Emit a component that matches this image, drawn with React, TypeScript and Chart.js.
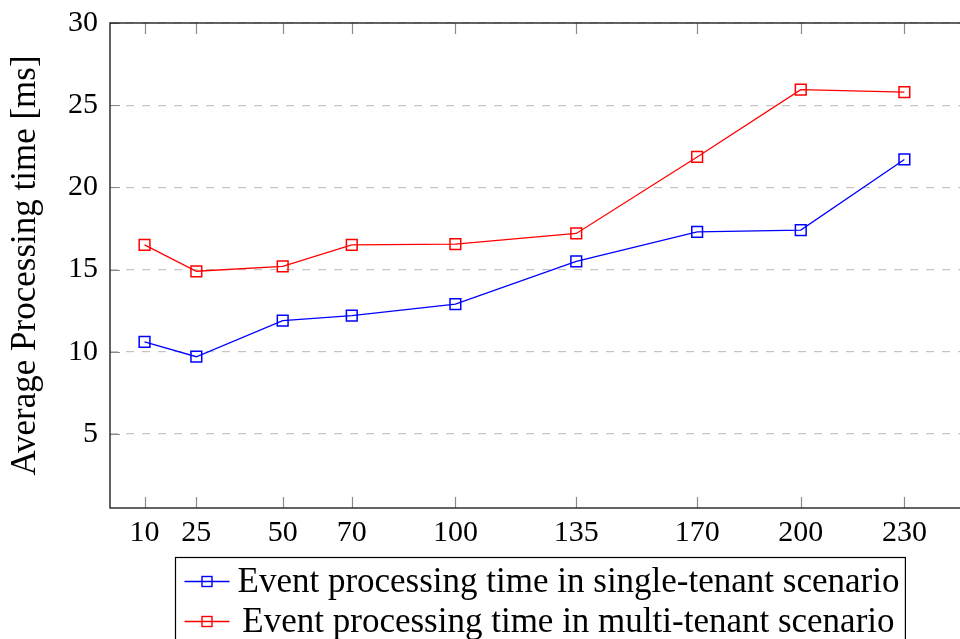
import React, { useEffect, useRef } from "react";
import { Chart, registerables } from "chart.js";

Chart.register(...registerables);

// ---- data ----
const processCounts = [10, 25, 50, 70, 100, 135, 170, 200, 230];
const singleTenant = [10.6, 9.7, 11.9, 12.2, 12.9, 15.5, 17.3, 17.4, 21.7];
const multiTenant = [16.5, 14.9, 15.2, 16.5, 16.55, 17.2, 21.85, 25.95, 25.8];
const yTickValues = [5, 10, 15, 20, 25, 30];
const seriesLabels = [
  "Event processing time in single-tenant scenario",
  "Event processing time in multi-tenant scenario",
];
const seriesColors = ["#0000ff", "#ff0000"];
const yAxisTitle = "Average Processing time [ms]";

const FONT = '"Liberation Serif", "Times New Roman", serif';

const framePlugin = {
  id: "pgfFrame",
  beforeDatasetsDraw(chart: any) {
    const { ctx, chartArea } = chart;
    const { left, right, top, bottom } = chartArea;
    const xs = chart.scales.x;
    const ys = chart.scales.y;
    ctx.save();
    ctx.strokeStyle = "#8a8a8a";
    ctx.lineWidth = 1.2;
    ctx.beginPath();
    for (const v of processCounts) {
      const px = Math.round(xs.getPixelForValue(v)) + 0.5;
      ctx.moveTo(px, bottom);
      ctx.lineTo(px, bottom - 11);
      ctx.moveTo(px, top);
      ctx.lineTo(px, top + 11);
    }
    for (const v of yTickValues) {
      const py = Math.round(ys.getPixelForValue(v)) + 0.5;
      ctx.moveTo(left, py);
      ctx.lineTo(left + 10, py);
      ctx.moveTo(right, py);
      ctx.lineTo(right - 10, py);
    }
    ctx.stroke();
    ctx.restore();
  },
  afterDraw(chart: any) {
    const { ctx, chartArea } = chart;
    const { left, right, top, bottom } = chartArea;
    ctx.save();
    ctx.strokeStyle = "#222";
    ctx.lineWidth = 1.4;
    ctx.strokeRect(left, top, right - left, bottom - top);

    // legend
    ctx.font = `35px ${FONT}`;
    const labels = chart.data.datasets.map((d: any) => d.label as string);
    const widths = labels.map((l: string) => ctx.measureText(l).width);
    const maxW = Math.max(...widths);
    const sampleW = 45;
    const boxW = 9 + sampleW + 8 + maxW + 6;
    const cx = (left + right) / 2;
    const boxLeft = Math.round(cx - boxW / 2) + 0.5;
    const boxTop = 557.5;
    const rowH = 40;
    ctx.strokeStyle = "#000";
    ctx.lineWidth = 1.2;
    ctx.strokeRect(boxLeft, boxTop, boxW, rowH * 2 + 14);
    chart.data.datasets.forEach((d: any, i: number) => {
      const cy = boxTop + 24 + i * rowH;
      const sx0 = boxLeft + 9;
      const sx1 = sx0 + sampleW;
      ctx.strokeStyle = d.borderColor;
      ctx.lineWidth = 1.3;
      ctx.beginPath();
      ctx.moveTo(sx0, cy);
      ctx.lineTo(sx1, cy);
      ctx.stroke();
      ctx.lineWidth = 1.4;
      const sm = (sx0 + sx1) / 2;
      ctx.strokeRect(sm - 5, cy - 5, 10, 10);
      ctx.fillStyle = "#000";
      ctx.textAlign = "center";
      ctx.textBaseline = "middle";
      const tx = sx1 + 8 + maxW / 2;
      ctx.fillText(d.label, tx, cy + 1);
    });
    ctx.restore();
  },
};

export default function App() {
  const canvasRef = useRef<HTMLCanvasElement | null>(null);

  useEffect(() => {
    document.body.style.margin = "0";
    const canvas = canvasRef.current;
    if (!canvas) return;
    const series = [singleTenant, multiTenant];
    const chart = new Chart(canvas, {
      type: "line",
      data: {
        datasets: series.map((vals, i) => ({
          label: seriesLabels[i],
          data: processCounts.map((x, j) => ({ x, y: vals[j] })),
          borderColor: seriesColors[i],
          backgroundColor: "transparent",
          borderWidth: 1.3,
          pointStyle: "rect",
          pointRadius: 7.6,
          pointBorderWidth: 1.5,
          pointBackgroundColor: "transparent",
          pointBorderColor: seriesColors[i],
          tension: 0,
          fill: false,
        })),
      },
      options: {
        responsive: false,
        animation: false,
        devicePixelRatio: 1,
        layout: { padding: { top: 23, right: 30, left: 0, bottom: 0 } },
        plugins: {
          legend: { display: false },
          tooltip: { enabled: false },
        },
        scales: {
          x: {
            type: "linear",
            min: 0,
            max: 249,
            afterBuildTicks: (scale: any) => {
              scale.ticks = processCounts.map((v) => ({ value: v }));
            },
            afterFit: (scale: any) => {
              scale.height = 192;
              scale.paddingLeft = 0;
              scale.paddingRight = 0;
            },
            grid: { display: false, drawTicks: false },
            border: { display: false },
            ticks: {
              autoSkip: false,
              maxRotation: 0,
              padding: 7,
              color: "#000",
              font: { family: FONT, size: 30 },
              callback: (v: any) => String(v),
            },
          },
          y: {
            type: "linear",
            min: 0.5,
            max: 30,
            afterBuildTicks: (scale: any) => {
              scale.ticks = yTickValues.map((v) => ({ value: v }));
            },
            afterFit: (scale: any) => {
              scale.width = 110;
              scale.paddingTop = 0;
              scale.paddingBottom = 0;
            },
            grid: {
              color: "#c4c4c4",
              lineWidth: 1.2,
              drawTicks: false,
            },
            border: { display: false, dash: [8, 8] },
            ticks: {
              padding: 12,
              color: "#000",
              font: { family: FONT, size: 30 },
              callback: (v: any) => String(v),
            },
            title: {
              display: true,
              text: yAxisTitle,
              color: "#000",
              font: { family: FONT, size: 35, lineHeight: 1.2 },
              padding: { top: 5, bottom: 0 },
            },
          },
        },
      },
      plugins: [framePlugin],
    } as any);
    return () => chart.destroy();
  }, []);

  return (
    <div
      style={{
        position: "absolute",
        left: 0,
        top: 0,
        width: 960,
        height: 639,
        overflow: "hidden",
        background: "#fff",
      }}
    >
      <canvas ref={canvasRef} width={1000} height={700} style={{ display: "block" }} />
    </div>
  );
}
